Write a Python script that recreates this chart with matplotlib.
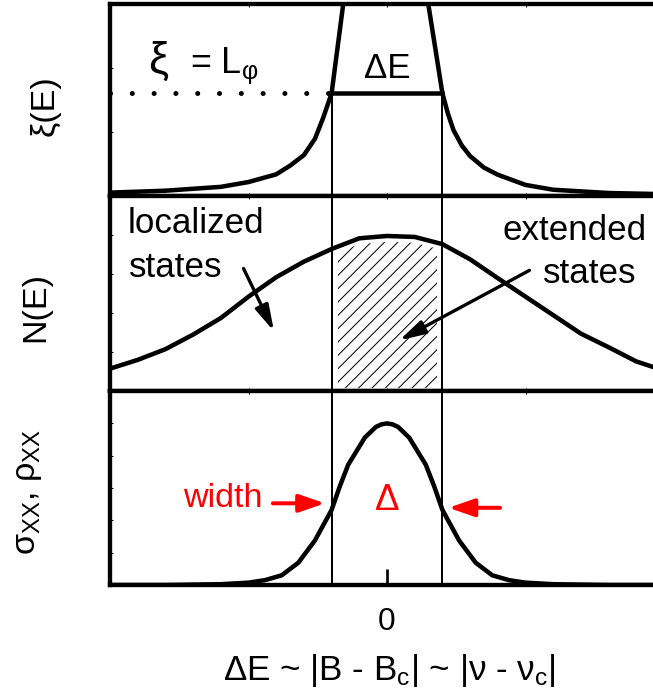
import matplotlib
matplotlib.use('Agg')
import matplotlib.pyplot as plt
from matplotlib.patches import Rectangle

plt.rcParams['font.family'] = 'Liberation Sans'
plt.rcParams['mathtext.fontset'] = 'custom'
plt.rcParams['mathtext.rm'] = 'Liberation Sans'
plt.rcParams['mathtext.it'] = 'Liberation Sans:italic'
plt.rcParams['hatch.linewidth'] = 0.6

# localization length xi(E), diverging at the band centre (goes off the top)
xi_x = [-5.0, -4.0, -3.0, -2.5, -2.0, -1.75, -1.5, -1.3, -1.15, -1.0, -0.79, -0.74,
        0.70, 0.745, 1.0, 1.1, 1.2, 1.35, 1.5, 1.75, 2.0, 2.5, 3.0, 4.0, 5.0]
xi_y = [0.02, 0.03, 0.05, 0.075, 0.115, 0.16, 0.215, 0.30, 0.41, 0.536, 1.0, 1.1,
        1.1, 1.0, 0.536, 0.43, 0.345, 0.265, 0.21, 0.15, 0.113, 0.06, 0.035, 0.018, 0.012]

# density of states N(E)
dos_x = [-5, -4.5, -4, -3.5, -3, -2.5, -2, -1.5, -1, -0.5, 0, 0.5, 1, 1.5, 2, 2.5, 3, 3.5, 4, 4.5, 5]
dos_y = [0.115, 0.16, 0.215, 0.29, 0.375, 0.485, 0.585, 0.665, 0.73, 0.785, 0.797, 0.792,
         0.755, 0.677, 0.58, 0.485, 0.39, 0.295, 0.225, 0.152, 0.105]

# sigma_xx / rho_xx peak
sig_x = [-5, -4, -3, -2.5, -2.2, -1.9, -1.6, -1.3, -1.0, -0.85, -0.7, -0.4, -0.2, -0.1, 0,
         0.1, 0.2, 0.4, 0.7, 0.85, 1.0, 1.3, 1.6, 1.9, 2.2, 2.5, 3, 4, 5]
sig_y = [0, 0, 0.004, 0.012, 0.025, 0.05, 0.115, 0.23, 0.387, 0.51, 0.62, 0.76, 0.815, 0.828, 0.833,
         0.828, 0.815, 0.76, 0.62, 0.51, 0.387, 0.23, 0.115, 0.05, 0.025, 0.012, 0.004, 0, 0]

edge = 1.0      # mobility edges at +-edge
l_phi = 0.536   # level where xi = L_phi

fig = plt.figure(figsize=(653 / 120, 695 / 120), dpi=120)
left, width = 110 / 653, 554 / 653
ax1 = fig.add_axes([left, 0.7173, width, 0.2770])
ax2 = fig.add_axes([left, 0.4374, width, 0.2799])
ax3 = fig.add_axes([left, 0.1583, width, 0.2791])

for ax in (ax1, ax2, ax3):
    ax.set_xlim(-5, 5)
    ax.set_ylim(0, 1)
    for s in ax.spines.values():
        s.set_linewidth(2.6)
    ax.set_xticks([-2.5, 0, 2.5])
    ax.tick_params(which='both', direction='in', length=2, width=0.6,
                   top=True, right=False, labelleft=False, labelbottom=False)

ax1.set_yticks([1 / 3, 2 / 3])
ax2.set_yticks([0.2, 0.4, 0.6, 0.8])
ax3.set_yticks([1 / 6, 2 / 6, 3 / 6, 4 / 6, 5 / 6])

# bottom axis: single labelled tick at 0
ax3.set_xticks([0])
ax3.set_xticklabels(['0'])
ax3.set_xticks([-2.5, 2.5], minor=True)
ax3.tick_params(axis='x', which='major', top=False, length=9.6, width=1.6, pad=13,
                labelbottom=True, labelsize=19)

lw_curve = 2.7

# top panel
ax1.plot(xi_x, xi_y, color='k', lw=lw_curve)
ax1.plot([-5, -edge], [l_phi, l_phi], color='k', lw=3.0, linestyle=(0, (0.01, 4.35)),
         dash_capstyle='round')
ax1.plot([-edge, edge], [l_phi, l_phi], color='k', lw=lw_curve)
for xv in (-edge, edge):
    ax1.plot([xv, xv], [0, l_phi], color='k', lw=1.2)
ax1.text(-4.31, 0.64, 'ξ', fontsize=27, ha='left', va='baseline')
ax1.text(-3.55, 0.64, '= L$_{\\mathrm{φ}}$', fontsize=21.5, ha='left', va='baseline')
ax1.text(0, 0.616, 'ΔE', fontsize=21, ha='center', va='baseline')

# middle panel
hatch = ax2.fill_between(dos_x, 0.015, [v - 0.03 for v in dos_y], facecolor='none',
                         edgecolor='k', hatch='///', lw=0)
hatch.set_clip_path(Rectangle((-0.88, 0), 1.78, 1, transform=ax2.transData))
ax2.plot(dos_x, dos_y, color='k', lw=lw_curve)
for xv in (-edge, edge):
    ax2.axvline(xv, color='k', lw=1.2)
ax2.text(-4.68, 0.812, 'localized', fontsize=21, ha='left', va='baseline')
ax2.text(-4.66, 0.586, 'states', fontsize=21, ha='left', va='baseline')
ax2.text(2.09, 0.776, 'extended', fontsize=21, ha='left', va='baseline')
ax2.text(2.82, 0.555, 'states', fontsize=21, ha='left', va='baseline')
arrow_k = dict(arrowstyle='-|>,head_length=1.3,head_width=0.35', lw=2.0, color='k',
               shrinkA=0, shrinkB=0, mutation_scale=10)
ax2.annotate('', xy=(-2.04, 0.307), xytext=(-2.59, 0.630), arrowprops=arrow_k)
ax2.annotate('', xy=(0.22, 0.26), xytext=(2.57, 0.62), arrowprops=arrow_k)

# bottom panel
ax3.plot(sig_x, sig_y, color='k', lw=lw_curve)
for xv in (-edge, edge):
    ax3.axvline(xv, color='k', lw=1.2)
arrow_r = dict(arrowstyle='-|>,head_length=1.3,head_width=0.45', lw=2.4, color='red',
               shrinkA=0, shrinkB=0, mutation_scale=10)
ax3.annotate('', xy=(-1.12, 0.421), xytext=(-2.06, 0.421), arrowprops=arrow_r)
ax3.annotate('', xy=(1.11, 0.398), xytext=(2.04, 0.398), arrowprops=arrow_r)
ax3.text(-2.24, 0.404, 'width', color='red', fontsize=20.5, ha='right', va='baseline')
ax3.text(0, 0.387, 'Δ', color='red', fontsize=22, ha='center', va='baseline')

# axis labels
fig.text(45 / 653, 1 - 106 / 695, 'ξ(E)', rotation=90, fontsize=20.5, ha='center', va='center')
fig.text(36 / 653, 1 - 307 / 695, 'N(E)', rotation=90, fontsize=20.5, ha='center', va='center')
fig.text(28 / 653, 1 - 492 / 695, 'σ$_{\\mathrm{XX}}$, ρ$_{\\mathrm{XX}}$', rotation=90,
         fontsize=20.5, ha='center', va='center')
fig.text(389 / 653, 1 - 680 / 695, 'ΔE ~ |B - B$_{\\mathrm{c}}$| ~ |ν - ν$_{\\mathrm{c}}$|',
         fontsize=21, ha='center', va='baseline')

fig.savefig('out.png', dpi=120)
